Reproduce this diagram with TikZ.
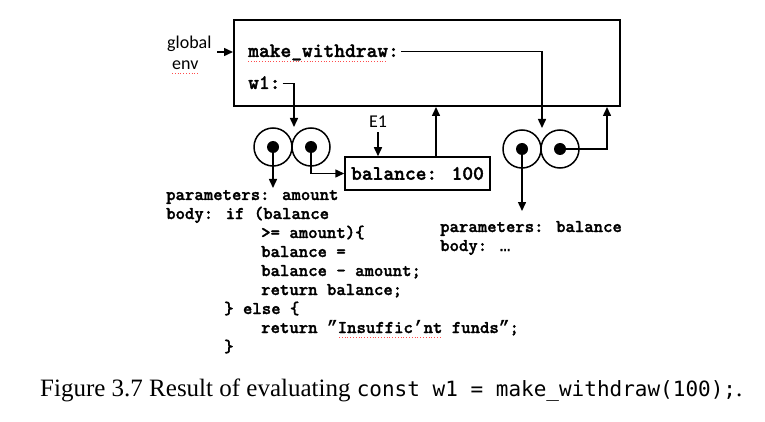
\documentclass[tikz,border=0pt]{standalone}
\usepackage{fontspec}
\setmainfont{Liberation Serif}
\newfontfamily\codefont{lmmonolt10-bold.otf}[FakeBold=1.6]
\newfontfamily\quotefont{Liberation Mono}[FakeBold=1.2]
\newfontfamily\labfont{Carlito}
\newfontfamily\capmono{DejaVu Sans Mono}
\usetikzlibrary{arrows.meta}
\newcommand\cq[1]{{\quotefont #1}}
\begin{document}
\begin{tikzpicture}[x=1pt,y=-1pt,
  arr/.style={-{Triangle[length=9pt,width=8pt]}, line width=1.5pt},
  frametext/.style={font=\codefont\fontsize{20.5}{22}\selectfont, anchor=base west, inner sep=0pt, text height=11pt, text depth=0pt},
  code/.style={font=\codefont\fontsize{17.9}{19}\selectfont, anchor=base west, inner sep=0pt},
  lab/.style={font=\labfont\fontsize{18}{20}\selectfont, anchor=base west, inner sep=0pt},
  pair/.style={circle, draw, line width=1.5pt, minimum size=38pt, inner sep=0pt},
  dot/.style={circle, fill, minimum size=12pt, inner sep=0pt},
  squig/.style={red!70!white, dotted, line width=0.8pt}]
\useasboundingbox (0,0) rectangle (765,422);

% global frame
\node[draw, line width=2pt, minimum width=386pt, minimum height=86pt, inner sep=0pt] (frame) at (427,63) {};
\node[lab] (glob) at (167,49) {global};
\node[lab] (env) at (172,70) {env};
\coordinate (gstart) at (217,52);
\draw[arr] (gstart) -- (gstart -| frame.west);

\node[frametext] (mw) at (248,57) {make\_withdraw:};
\node[frametext] (w1) at (248,89) {w1:};

% function objects
\node[pair] (lc1) at (273,147) {};
\node[pair] (lc2) at (311,147) {};
\node[dot] (ld1) at (lc1) {};
\node[dot] (ld2) at (lc2) {};
\node[pair] (rc1) at (522,149) {};
\node[pair] (rc2) at (560,149) {};
\node[dot] (rd1) at (rc1) {};
\node[dot] (rd2) at (rc2) {};

% environment E1
\node[draw, line width=1.5pt, minimum width=145pt, minimum height=33pt, inner sep=0pt,
      font=\codefont\fontsize{20.5}{22}\selectfont] (bal) at (417.5,173.5) {balance: 100};
\node[lab, anchor=base] (e1) at (378,128) {E1};

% connectors
\coordinate (w1tip) at (294,127);
\draw[arr] ([xshift=2pt]w1.east) -| (w1tip);
\coordinate (mwtip) at (542,128);
\draw[arr] ([xshift=2pt]mw.east) -| (mwtip);
\coordinate (ltip) at (273,188);
\draw[arr] (ld1.center) -- (ltip);
\draw[arr] (ld2.center) |- (bal.west);
\draw[arr] ([yshift=-4pt]e1.south) -- (e1 |- bal.north);
\coordinate (up1) at (436,0);
\draw[arr] (bal.north -| up1) -- (frame.south -| up1);
\coordinate (up2) at (607,0);
\draw[arr] (rd2.center) -| (frame.south -| up2);
\coordinate (rtip) at (522,211);
\draw[arr] (rd1.center) -- (rtip);

% code texts
\node[code] (p2) at (440,232) {parameters: balance};
\node[code] (b2) at (440,251) {body: \cq{…}};

\node[code] (c1) at (166,200) {parameters: amount};
\node[code] (c2) at (166,219) {body: if (balance};
\node[code] (c3) at (261,238) {>= amount)\{};
\node[code] (c4) at (261,257) {balance =};
\node[code] (c5) at (261,276) {balance - amount;};
\node[code] (c6) at (261,295) {return balance;};
\node[code] (c7) at (224,314) {\} else \{};
\node[code] (c8) at (261,333) {return \cq{”}Insuffic\cq{’}nt funds\cq{”};};
\node[code] (c9) at (224,352) {\}};

% spell-check squiggles
\draw[squig] ([yshift=-4pt]mw.base west) -- ++(138,0);
\draw[squig] ([yshift=-3pt]env.base west) -- ++(26,0);
\draw[squig] ([xshift=78pt,yshift=-4pt]c8.base west) -- ++(103,0);

% caption
\node[anchor=base west, inner sep=0pt, font=\fontsize{25}{30}\selectfont] (cap) at (40,396)
  {Figure 3.7 Result of evaluating {\capmono\fontsize{21}{30}\selectfont const w1 = make\_withdraw(100);}.};
\end{tikzpicture}
\end{document}
